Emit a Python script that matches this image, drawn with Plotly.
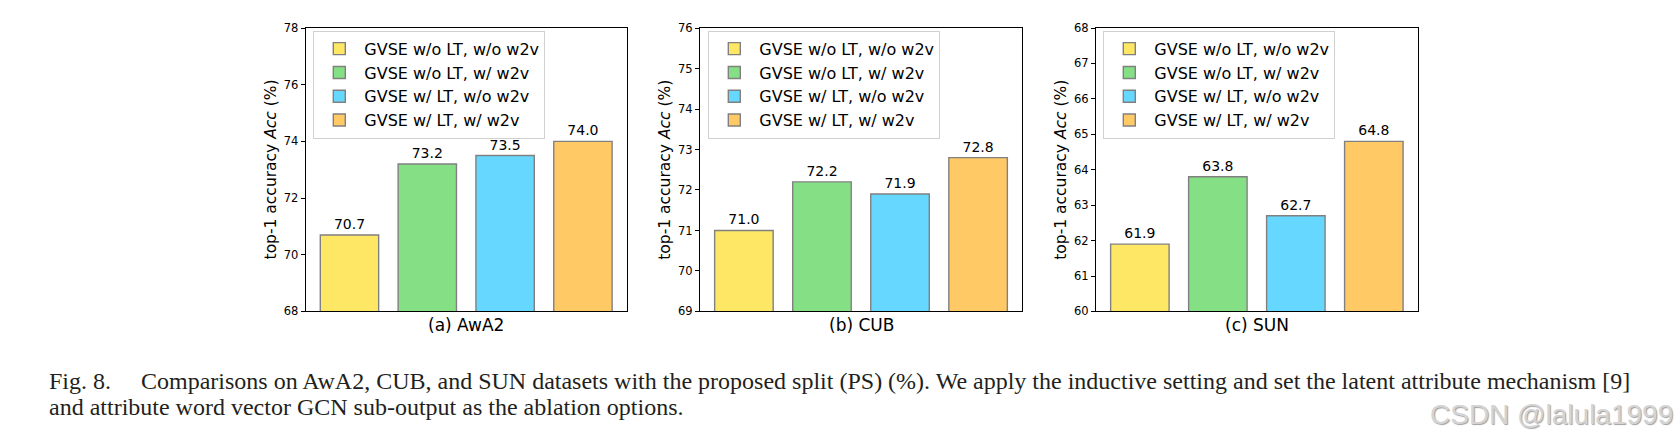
import plotly.graph_objects as go

# ---- data ----
methods = ["GVSE w/o LT, w/o w2v", "GVSE w/o LT, w/ w2v", "GVSE w/ LT, w/o w2v", "GVSE w/ LT, w/ w2v"]
awa2_acc = [70.7, 73.2, 73.5, 74.0]
cub_acc = [71.0, 72.2, 71.9, 72.8]
sun_acc = [61.9, 63.8, 62.7, 64.8]
panel_labels = ["(a) AwA2", "(b) CUB", "(c) SUN"]
y_ranges = [(68, 78), (69, 76), (60, 68)]
y_dticks = [2, 1, 1]
caption_1a = "Fig. 8."
caption_1b = ("Comparisons on AwA2, CUB, and SUN datasets with the proposed split (PS) (%). "
              "We apply the inductive setting and set the latent attribute mechanism [9]")
caption_2 = "and attribute word vector GCN sub-output as the ablation options."
watermark = "CSDN @lalula1999"

colors = ["#FFE766", "#85E085", "#66D8FF", "#FFC966"]
W, H = 1680, 447
FONT = "DejaVu Sans"

x_domains = [(305.7 / W, 626.7 / W), (700 / W, 1022 / W), (1096 / W, 1417.7 / W)]
y_domain = ((H - 314.3) / H, (H - 21.7) / H)
legend_x = [313.3 / W, 708.3 / W, 1103.3 / W]
legend_top = (H - 24.5) / H

fig = go.Figure()
datasets = [awa2_acc, cub_acc, sun_acc]
for p, vals in enumerate(datasets):
    xa = "x" if p == 0 else f"x{p+1}"
    ya = "y" if p == 0 else f"y{p+1}"
    lg = "legend" if p == 0 else f"legend{p+1}"
    for i, (m, v) in enumerate(zip(methods, vals)):
        fig.add_trace(go.Bar(
            x=[i], y=[v], width=0.75, name=m,
            marker=dict(color=colors[i], line=dict(color="#808080", width=1.4)),
            text=[f"{v:.1f}"], textposition="outside", cliponaxis=False,
            textfont=dict(family=FONT, size=14, color="black"),
            xaxis=xa, yaxis=ya, legend=lg, showlegend=True,
        ))

layout = dict(
    width=W, height=H, margin=dict(l=0, r=0, t=0, b=0),
    paper_bgcolor="white", plot_bgcolor="white",
    barmode="overlay", showlegend=True,
    font=dict(family=FONT, color="black"),
)
annotations = []
for p in range(3):
    sx = "" if p == 0 else str(p + 1)
    layout[f"xaxis{sx}"] = dict(
        domain=list(x_domains[p]), range=[-0.5625, 3.5625], anchor=f"y{sx}",
        showticklabels=False, ticks="", showgrid=False, zeroline=False,
        showline=True, linecolor="black", linewidth=1.2, mirror=True, fixedrange=True,
    )
    layout[f"yaxis{sx}"] = dict(
        domain=list(y_domain), range=list(y_ranges[p]), anchor=f"x{sx}",
        dtick=y_dticks[p], tick0=y_ranges[p][0],
        ticks="outside", ticklen=4, tickwidth=1, tickcolor="black",
        tickfont=dict(family=FONT, size=11.5, color="black"),
        showgrid=False, zeroline=False,
        showline=True, linecolor="black", linewidth=1.2, mirror=True,
    )
    lgname = "legend" if p == 0 else f"legend{p+1}"
    layout[lgname] = dict(
        x=legend_x[p], y=legend_top, xanchor="left", yanchor="top",
        bgcolor="white", bordercolor="#d0d0d0", borderwidth=1,
        font=dict(family=FONT, size=16, color="black"),
        tracegroupgap=0, itemwidth=40,
    )
    annotations.append(dict(
        text=panel_labels[p], xref=f"x{sx} domain", yref=f"y{sx} domain",
        x=0.5, y=0, xanchor="center", yanchor="top", yshift=-2, showarrow=False,
        font=dict(family=FONT, size=17, color="black"),
    ))
    annotations.append(dict(
        text="top-1 accuracy <i>Acc</i> (%)", xref=f"x{sx} domain", yref=f"y{sx} domain",
        x=0, y=0.5, xanchor="center", yanchor="middle", xshift=-35, textangle=-90,
        showarrow=False, font=dict(family=FONT, size=15.5, color="black"),
    ))

SERIF = "Liberation Serif"
CAP = 24
annotations += [
    dict(text=caption_1a, xref="paper", yref="paper", x=47 / W, y=(H - 386) / H,
         xanchor="left", yanchor="middle", showarrow=False,
         font=dict(family=SERIF, size=CAP, color="#231f20")),
    dict(text=caption_1b, xref="paper", yref="paper", x=139 / W, y=(H - 386) / H,
         xanchor="left", yanchor="middle", showarrow=False,
         font=dict(family=SERIF, size=CAP, color="#231f20")),
    dict(text=caption_2, xref="paper", yref="paper", x=47 / W, y=(H - 412.5) / H,
         xanchor="left", yanchor="middle", showarrow=False,
         font=dict(family=SERIF, size=CAP, color="#231f20")),
    dict(text=watermark, xref="paper", yref="paper", x=1675 / W, y=(H - 421) / H,
         xanchor="right", yanchor="middle", showarrow=False,
         font=dict(family="Liberation Sans", size=28, color="#d4d4d4",
                   shadow="1px 1px 1px #a0a0a0")),
]
layout["annotations"] = annotations
fig.update_layout(**layout)
fig.write_html("out.html", config={"displayModeBar": False},
               post_script="document.body.style.margin='0';")
